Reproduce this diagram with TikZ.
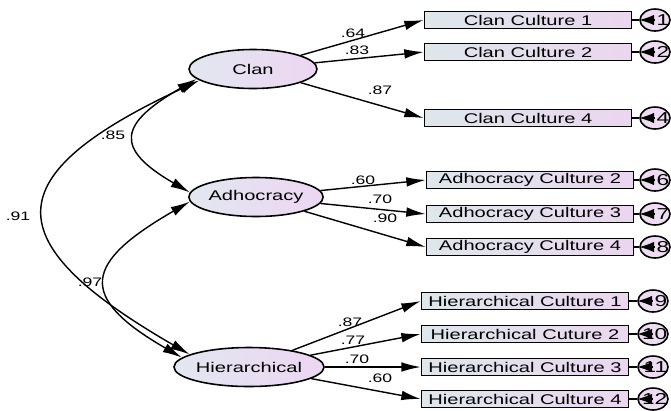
\documentclass[tikz,border=0pt]{standalone}
\usepackage{fontspec}
\setmainfont{Liberation Sans}
\usetikzlibrary{arrows.meta,shapes.geometric}
\definecolor{shadeL}{HTML}{E2E7F0}
\definecolor{shadeR}{HTML}{EDD6F2}
\definecolor{boxL}{HTML}{DEE7EB}
\definecolor{boxR}{HTML}{EBD6EF}
\definecolor{errfill}{HTML}{EEDDF2}
\newcommand{\wtext}[1]{\scalebox{1.43}[1]{#1}}
\tikzset{
  latent/.style={ellipse,draw,line width=0.9pt,minimum width=2.56cm,minimum height=0.78cm,inner sep=0pt,
    left color=shadeL,right color=shadeR,font=\fontsize{8}{9}\selectfont},
  indicator/.style={rectangle,draw,line width=1pt,minimum width=4.14cm,minimum height=0.34cm,inner sep=0pt,
    left color=boxL,right color=boxR,font=\fontsize{8}{9}\selectfont},
  err/.style={ellipse,draw,line width=0.9pt,minimum width=0.6cm,minimum height=0.44cm,inner sep=0pt,fill=errfill},
  errnum/.style={anchor=east,inner sep=0pt,font=\fontsize{9}{10}\selectfont},
  coef/.style={inner sep=0pt,font=\fontsize{7}{8}\selectfont},
  load/.style={line width=0.8pt,-{Latex[length=11pt,width=5.5pt]}},
  corr/.style={line width=0.8pt,{Latex[length=11pt,width=5.5pt]}-{Latex[length=11pt,width=5.5pt]},looseness=2},
  errtip/.style={line width=0.8pt,-{Latex[length=8.5pt,width=6pt]}}
}
\begin{document}
\begin{tikzpicture}[x=0.02cm,y=-0.02cm]
    \useasboundingbox (0,0) rectangle (671,410);
    \clip (0,0) rectangle (671,410);

    \node[latent] (clan) at (253,69) {\wtext{Clan}};
    \node[latent] (adh) at (256,197) {\wtext{Adhocracy}};
    \node[latent] (hier) at (249,367) {\wtext{Hierarchical}};

    \node[indicator] (cc1) at (528,20) {\wtext{Clan Culture 1}};
    \node[indicator] (cc2) at (528,52) {\wtext{Clan Culture 2}};
    \node[indicator] (cc4) at (528,118) {\wtext{Clan Culture 4}};
    \node[indicator] (ac2) at (530,180) {\wtext{Adhocracy Culture 2}};
    \node[indicator] (ac3) at (530,214) {\wtext{Adhocracy Culture 3}};
    \node[indicator] (ac4) at (530,247) {\wtext{Adhocracy Culture 4}};
    \node[indicator] (hc1) at (525,301) {\wtext{Hierarchical Culture 1}};
    \node[indicator] (hc2) at (525,334) {\wtext{Hierarchical Cuture 2}};
    \node[indicator] (hc3) at (525,367) {\wtext{Hierarchical Culture 3}};
    \node[indicator] (hc4) at (525,399) {\wtext{Hierarchical Culture 4}};

    \node[err] (e1) at (655,20) {};
    \node[err] (e2) at (655,52) {};
    \node[err] (e4) at (655,118) {};
    \node[err] (e6) at (655,180) {};
    \node[err] (e7) at (655,214) {};
    \node[err] (e8) at (655,247) {};
    \node[err] (e9) at (653,301) {};
    \node[err] (e10) at (653,334) {};
    \node[err] (e11) at (653,367) {};
    \node[err] (e12) at (653,399) {};

    \foreach \e/\c/\n in {e1/cc1/1,e2/cc2/2,e4/cc4/4,e6/ac2/6,e7/ac3/7,e8/ac4/8,e9/hc1/9,e10/hc2/10,e11/hc3/11,e12/hc4/12}{
      \draw[line width=0.8pt] (\c.east) -- (\e.west);
      \node[errnum] at ([xshift=0.29cm]\e.center) {\wtext{\n}};
      \draw[errtip] (\e.center) -- (\e.west);
    }

    \draw[load] (clan) -- (cc1.west);
    \draw[load] (clan) -- (cc2.west);
    \draw[load] (clan) -- (cc4.west);
    \draw[load] (adh) -- (ac2.west);
    \draw[load] (adh) -- (ac3.west);
    \draw[load] (adh) -- (ac4.west);
    \draw[load] (hier) -- (hc1.west);
    \draw[load] (hier) -- (hc2.west);
    \draw[load] (hier) -- (hc3.west);
    \draw[load] (hier) -- (hc4.west);

    \draw[corr] (clan.190) to[out=210,in=150] (adh.176);
    \draw[corr] (clan.192) to[out=205,in=150,looseness=2.1] (hier.168);
    \draw[corr] (adh.184) to[out=210,in=150] (hier.172);

    \node[coef] (l1) at (353,33) {\wtext{.64}};
    \node[coef] (l2) at (357,50) {\wtext{.83}};
    \node[coef] (l4) at (380,90) {\wtext{.87}};
    \node[coef] (l6) at (363,180) {\wtext{.60}};
    \node[coef] (l7) at (380,199) {\wtext{.70}};
    \node[coef] (l8) at (385,218) {\wtext{.90}};
    \node[coef] (l9) at (350,322) {\wtext{.87}};
    \node[coef] (l10) at (353,340) {\wtext{.77}};
    \node[coef] (l11) at (357,359) {\wtext{.70}};
    \node[coef] (l12) at (380,378) {\wtext{.60}};
    \node[coef] (r1) at (113,135) {\wtext{.85}};
    \node[coef] (r2) at (18,216) {\wtext{.91}};
    \node[coef] (r3) at (90,282) {\wtext{.97}};
\end{tikzpicture}
\end{document}
